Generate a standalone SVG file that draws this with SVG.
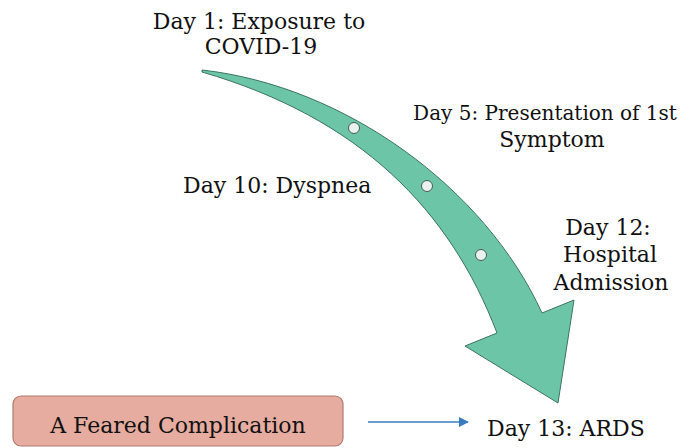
<svg xmlns="http://www.w3.org/2000/svg" width="700" height="448" viewBox="0 0 700 448">
<defs>
<style>
.dot{fill:#e9f2ef;stroke:#4a5a55;stroke-width:1;}
</style>
<marker id="ah" markerWidth="10" markerHeight="10" refX="9" refY="5" orient="auto" markerUnits="userSpaceOnUse">
<path d="M0,0 L10,5 L0,10 Z" fill="#3a7bbf"/>
</marker>
</defs>
<rect width="700" height="448" fill="#fff"/>
<g id="timeline-arrow">
<path d="M202,70 C345,86 485,188 542,313 L574,300 L558,403 L465,346 L497,333 C450,210 360,118 202,72 Z" fill="#6cc5a7" stroke="#3d7464" stroke-width="1"/>
<circle class="dot" cx="354" cy="128" r="5.5"/>
<circle class="dot" cx="427" cy="186" r="5.5"/>
<circle class="dot" cx="481" cy="255" r="5.5"/>
</g>
<g font-family="DejaVu Serif, Liberation Serif, serif" font-size="22" fill="#111">
<g id="day1">
<text x="259" y="29" text-anchor="middle">Day 1: Exposure to</text>
<text x="261" y="54" text-anchor="middle">COVID-19</text>
</g>
<g id="day5">
<text x="545" y="120" text-anchor="middle" font-size="20">Day 5: Presentation of 1st</text>
<text x="552" y="147" text-anchor="middle">Symptom</text>
</g>
<g id="day10">
<text x="183" y="193">Day 10: Dyspnea</text>
</g>
<g id="day12">
<text x="608" y="235" text-anchor="middle">Day 12:</text>
<text x="610" y="262" text-anchor="middle">Hospital</text>
<text x="611" y="290" text-anchor="middle">Admission</text>
</g>
<g id="complication">
<rect x="13" y="396" width="330" height="50" rx="8" fill="#e6aca0" stroke="#b07b70" stroke-width="1.2"/>
<text x="178" y="433" text-anchor="middle" fill="#111">A Feared Complication</text>
</g>
<g id="day13">
<text x="487" y="436">Day 13: ARDS</text>
</g>
</g>
<g id="connectors">
<line x1="368" y1="422" x2="468" y2="422" stroke="#3a7bbf" stroke-width="1.5" marker-end="url(#ah)"/>
</g>
</svg>
